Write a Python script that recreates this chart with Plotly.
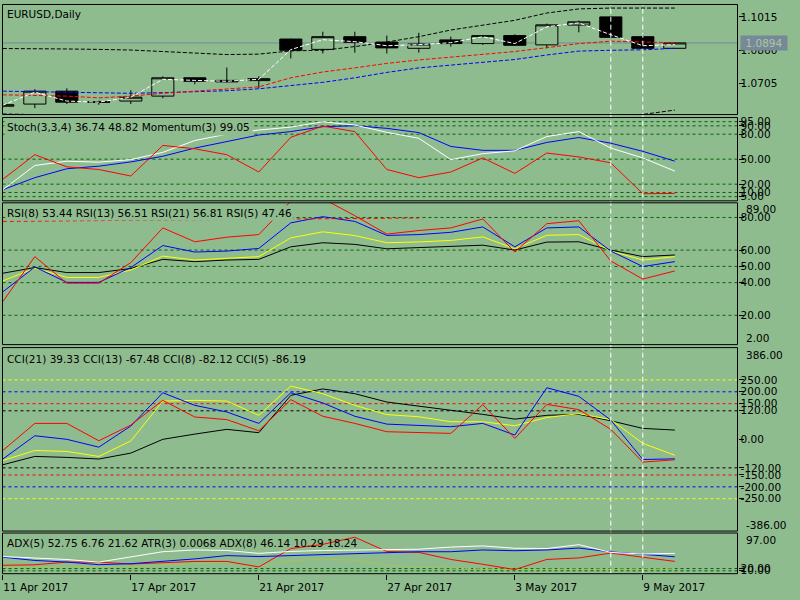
import plotly.graph_objects as go

BG = "#8fbc8f"
LEVEL = "#006400"
FONT = dict(family="DejaVu Sans", size=10.5, color="black")
W, H = 800, 600

# ---------------- data ----------------
bar_dates = ["11 Apr 2017", "12 Apr 2017", "13 Apr 2017", "14 Apr 2017",
             "17 Apr 2017", "18 Apr 2017", "19 Apr 2017", "20 Apr 2017", "21 Apr 2017",
             "24 Apr 2017", "25 Apr 2017", "26 Apr 2017", "27 Apr 2017", "28 Apr 2017",
             "1 May 2017", "2 May 2017", "3 May 2017", "4 May 2017", "5 May 2017",
             "8 May 2017", "9 May 2017", "10 May 2017"]
date_ticks = ["11 Apr 2017", "17 Apr 2017", "21 Apr 2017", "27 Apr 2017", "3 May 2017", "9 May 2017"]

open_ = [1.0600, 1.0610, 1.0670, 1.0621, 1.0624, 1.0647, 1.0732, 1.0720, 1.0719, 1.0912, 1.0864,
         1.0923, 1.0898, 1.0869, 1.0908, 1.0891, 1.0928, 1.0885, 1.0977, 1.1015, 1.0923, 1.0869]
high = [1.0614, 1.0679, 1.0683, 1.0626, 1.0674, 1.0739, 1.0734, 1.0780, 1.0739, 1.0914, 1.0946,
        1.0946, 1.0928, 1.0941, 1.0923, 1.0931, 1.0934, 1.0984, 1.0998, 1.1017, 1.0934, 1.0897]
low = [1.0594, 1.0591, 1.0610, 1.0607, 1.0610, 1.0637, 1.0702, 1.0711, 1.0683, 1.0822, 1.0845,
       1.0849, 1.0845, 1.0849, 1.0877, 1.0885, 1.0881, 1.0869, 1.0943, 1.0918, 1.0866, 1.0868]
close = [1.0607, 1.0670, 1.0619, 1.0619, 1.0642, 1.0732, 1.0716, 1.0713, 1.0728, 1.0860, 1.0923,
         1.0897, 1.0871, 1.0889, 1.0891, 1.0928, 1.0883, 1.0978, 1.0992, 1.0920, 1.0869, 1.0894]
last_price = 1.0894

ma_white = [1.0605, 1.0665, 1.0624, 1.0619, 1.0642, 1.0725, 1.0720, 1.0716, 1.0725, 1.0863, 1.0909,
            1.0900, 1.0881, 1.0886, 1.0895, 1.0923, 1.0891, 1.0969, 1.0987, 1.0932, 1.0881, 1.0886]
ma_red = [1.0653, 1.0651, 1.0647, 1.0639, 1.0647, 1.0660, 1.0670, 1.0679, 1.0690, 1.0732, 1.0759,
          1.0778, 1.0799, 1.0815, 1.0829, 1.0842, 1.0854, 1.0872, 1.0891, 1.0902, 1.0900, 1.0895]
ma_blue = [1.0670, 1.0667, 1.0665, 1.0662, 1.0660, 1.0663, 1.0667, 1.0672, 1.0681, 1.0697, 1.0711,
           1.0732, 1.0757, 1.0778, 1.0792, 1.0803, 1.0817, 1.0838, 1.0856, 1.0860, 1.0862, 1.0869]
band_up = [1.0868, 1.0868, 1.0866, 1.0864, 1.0861, 1.0854, 1.0847, 1.0840, 1.0842, 1.0857, 1.0860,
           1.0877, 1.0898, 1.0923, 1.0954, 1.0976, 1.0999, 1.1033, 1.1052, 1.1056, 1.1056, 1.1056]
band_dn = [1.0564, 1.0561, 1.0548, 1.0540, 1.0535, 1.0530, 1.0530, 1.0532, 1.0535, 1.0520, 1.0510,
           1.0505, 1.0500, 1.0505, 1.0512, 1.0522, 1.0533, 1.0540, 1.0548, 1.0556, 1.0562, 1.0582]

stoch_red = [25.8, 55.4, 40.8, 37.6, 29.8, 66.5, 62.5, 55.4, 34.6, 76.3, 89.7,
             83.1, 37.6, 27.8, 34.6, 51.5, 32.9, 57.4, 52.7, 45.6, 8.5, 8.9]
stoch_white = [13.3, 42.4, 47.6, 46.4, 49.5, 58.2, 72.4, 80.0, 85.0, 88.5, 94.9,
               90.9, 82.2, 75.1, 49.5, 56.6, 60.1, 77.2, 83.1, 63.3, 51.5, 35.7]
stoch_blue = [13.3, 27.8, 38.5, 41.6, 46.7, 53.5, 63.3, 71.2, 79.0, 83.1, 89.0,
              90.2, 87.0, 81.9, 65.3, 60.6, 60.6, 70.1, 76.0, 69.2, 59.4, 47.6]
stoch_levels = [95, 90, 80, 50, 20, 10, 5]

rsi_red = [28.4, 56.0, 39.7, 39.7, 52.3, 73.6, 65.1, 67.9, 69.5, 90.0, 91.6,
           81.1, 69.8, 72.0, 73.6, 79.1, 58.8, 76.2, 78.0, 53.3, 42.2, 47.2]
rsi_blue = [34.4, 49.6, 40.2, 40.2, 49.3, 62.8, 58.8, 59.4, 61.0, 76.7, 80.5,
            77.6, 69.0, 69.5, 70.9, 74.2, 62.0, 73.6, 74.2, 59.4, 49.9, 52.9]
rsi_yellow = [41.1, 48.9, 43.2, 43.2, 47.8, 56.3, 53.9, 54.8, 56.0, 67.5, 71.2,
              68.9, 64.5, 65.0, 65.9, 68.1, 60.8, 69.1, 69.5, 59.4, 53.9, 56.0]
rsi_black = [45.8, 49.3, 46.2, 46.2, 48.7, 54.3, 52.9, 53.9, 54.3, 62.0, 64.5,
             63.5, 60.8, 61.5, 62.0, 63.0, 60.0, 64.9, 65.1, 60.0, 56.0, 57.0]
rsi_trend_bars = [0, 13]
rsi_trend_vals = [77.6, 79.7]
rsi_levels = [80, 60, 50, 40, 20]

cci_red = [-47, 67, 67, -6, 60, 164, 94, 83, 36, 167, 97,
           67, 32, 30, 25, 146, 4, 147, 125, 42, -96, -86]
cci_blue = [-83, 15, 0, -33, 56, 196, 143, 115, 67, 196, 153,
            97, 64, 58, 53, 67, 18, 217, 181, 81, -85, -82]
cci_yellow = [-89, -47, -51, -72, -7, 161, 164, 161, 101, 224, 192,
              143, 104, 95, 74, 74, 57, 92, 108, 83, -17, -67]
cci_black = [-107, -72, -76, -83, -58, 0, 22, 42, 28, 185, 212,
             192, 157, 140, 122, 105, 85, 101, 105, 78, 46, 39]
cci_levels = [(250, "#ffff00"), (200, "#0000ff"), (150, "#ff0000"), (120, "#000000")]
cci_ticks = [250, 200, 150, 120, 0, -120, -150, -200, -250]

adx_white = [40.9, 37.6, 33.9, 27.7, 40.9, 52.4, 56.6, 55.4, 48.5, 53.1, 55.4,
             56.6, 56.1, 58.4, 63.5, 66.3, 60.7, 60.0, 69.3, 50.8, 46.9, 48.5]
adx_blue = [39.3, 31.6, 27.7, 21.5, 23.8, 29.3, 35.3, 43.2, 40.9, 43.2, 45.5,
            48.5, 50.8, 52.4, 52.4, 56.6, 54.8, 56.6, 61.2, 52.0, 46.2, 40.4]
adx_red = [20.1, 21.2, 27.7, 27.7, 23.1, 25.4, 29.3, 29.3, 16.2, 60.0, 70.0,
           87.0, 53.0, 50.8, 34.0, 22.4, 9.9, 34.0, 37.6, 49.2, 39.3, 29.3]
atr_olive = [15.0, 15.0, 15.0, 15.5, 16.2, 19.6, 24.2, 27.7, 16.2, 31.2, 34.6,
             32.3, 20.1, 15.0, 13.4, 11.5, 9.9, 10.9, 11.5, 11.5, 11.5, 11.5]
adx_levels = [12.2, 6.9]
adx_level_text = ["20.00", "10.00"]

marked_bars = ["8 May 2017", "9 May 2017"]

# ---------------- layout helpers ----------------
def fx(p):
    return p / W


def fy(p):
    return 1 - p / H


LEFT, RIGHT = 2.5, 737.5
panels = [  # name, top px, bottom px, value range
    ("price", 2.5, 113.5, [1.05613, 1.10726]),
    ("stoch", 116.5, 200.5, [0, 100]),
    ("rsi", 202.5, 345.5, [2, 89]),
    ("cci", 348.5, 533.5, [-386, 386]),
    ("adx", 535.5, 576.5, [0, 97]),
]
ax = {name: i + 1 for i, (name, *_rest) in enumerate(panels)}
xs = list(range(len(bar_dates)))
xrange_ = [-0.01, (RIGHT - LEFT) / 32 - 0.01]


def ref(name):
    i = ax[name]
    return ("x" if i == 1 else f"x{i}"), ("y" if i == 1 else f"y{i}")


fig = go.Figure()

xa, ya = ref("price")
fig.add_trace(go.Candlestick(
    x=xs, open=open_, high=high, low=low, close=close, xaxis=xa, yaxis=ya,
    increasing=dict(line=dict(color="black", width=1), fillcolor=BG),
    decreasing=dict(line=dict(color="black", width=1), fillcolor="black"),
    whiskerwidth=0, showlegend=False, hoverinfo="skip"))
for vals, col in [(band_up, "black"), (band_dn, "black"), (ma_blue, "#0000ff"),
                  (ma_red, "#ff0000"), (ma_white, "white")]:
    fig.add_trace(go.Scatter(x=xs, y=vals, mode="lines", xaxis=xa, yaxis=ya,
                             line=dict(color=col, width=1, dash="4px,2px")))


def lines(name, series):
    xa, ya = ref(name)
    for vals, col in series:
        fig.add_trace(go.Scatter(x=xs, y=vals, mode="lines", xaxis=xa, yaxis=ya,
                                 line=dict(color=col, width=1)))


lines("stoch", [(stoch_blue, "#0000ff"), (stoch_white, "white"), (stoch_red, "#ff0000")])
lines("rsi", [(rsi_black, "black"), (rsi_yellow, "#ffff00"), (rsi_blue, "#0000ff"), (rsi_red, "#ff0000")])
xa, ya = ref("rsi")
fig.add_trace(go.Scatter(x=rsi_trend_bars, y=rsi_trend_vals, mode="lines", xaxis=xa, yaxis=ya,
                         line=dict(color="#ff0000", width=1, dash="4px,3px")))
lines("cci", [(cci_black, "black"), (cci_yellow, "#ffff00"), (cci_blue, "#0000ff"), (cci_red, "#ff0000")])
xa, ya = ref("adx")
fig.add_trace(go.Scatter(x=xs, y=atr_olive, mode="lines", xaxis=xa, yaxis=ya,
                         line=dict(color="#b0d020", width=1, dash="2px,2px")))
lines("adx", [(adx_red, "#ff0000"), (adx_blue, "#0000ff"), (adx_white, "white")])

layout = dict(width=W, height=H, margin=dict(l=0, r=0, t=0, b=0), paper_bgcolor=BG,
              plot_bgcolor=BG, showlegend=False, hovermode=False, font=FONT,
              boxgap=0.31, boxgroupgap=0)
tickspec = {
    "price": ([1.1015, 1.0860, 1.0705], None, "%.4f"),
    "stoch": (stoch_levels, None, "%.2f"),
    "rsi": (rsi_levels, None, "%.2f"),
    "cci": (cci_ticks, None, "%.2f"),
    "adx": (adx_levels, adx_level_text, None),
}
for name, top, bot, yr in panels:
    i = ax[name]
    xa, ya = ref(name)
    xkey = "xaxis" if i == 1 else f"xaxis{i}"
    ykey = "yaxis" if i == 1 else f"yaxis{i}"
    layout[xkey] = dict(domain=[fx(LEFT), fx(RIGHT)], range=xrange_, anchor=ya,
                        visible=False, showgrid=False, zeroline=False,
                        rangeslider=dict(visible=False))
    vals, texts, fmt = tickspec[name]
    layout[ykey] = dict(domain=[fy(bot), fy(top)], range=yr, anchor=xa, side="right",
                        showgrid=False, zeroline=False, showline=False,
                        ticks="outside", ticklen=5, tickcolor="black", tickwidth=1,
                        ticklabelstandoff=-5,
                        tickvals=vals, ticktext=texts or [fmt % v for v in vals], tickfont=FONT)
last = f"xaxis{ax['adx']}"
layout[last].update(visible=True, showticklabels=True, ticks="outside", ticklen=5,
                    tickcolor="black", tickvals=[bar_dates.index(d) for d in date_ticks],
                    ticktext=date_ticks, ticklabelposition="outside right", tickfont=FONT,
                    ticklabelstandoff=4)
fig.update_layout(**layout)

# level lines
def hline(name, v, col, dash="3px,3px", layer="below"):
    fig.add_shape(type="line", xref="paper", x0=fx(LEFT), x1=fx(RIGHT), yref=ref(name)[1],
                  y0=v, y1=v, line=dict(color=col, width=1, dash=dash), layer=layer)


for v in stoch_levels:
    hline("stoch", v, LEVEL)
for v in rsi_levels:
    hline("rsi", v, LEVEL)
for v, col in cci_levels:
    hline("cci", v, col)
    hline("cci", -v, col)
for v in adx_levels:
    hline("adx", v, LEVEL)
hline("price", last_price, "#778899", dash="solid")

# session markers and panel frames
for d in marked_bars:
    b = bar_dates.index(d)
    fig.add_shape(type="line", xref="x", x0=b, x1=b, yref="paper", y0=fy(576.5), y1=fy(2.5),
                  line=dict(color="white", width=1, dash="5px,3px"), layer="above")
for name, top, bot, yr in panels:
    fig.add_shape(type="rect", xref="paper", yref="paper", x0=fx(LEFT), x1=fx(RIGHT),
                  y0=fy(bot), y1=fy(top), line=dict(color="black", width=1), layer="above")

# window captions: text, centre y px, background, padding
captions = [
    ("EURUSD,Daily", 12.5, "rgba(0,0,0,0)", 2),
    ("Stoch(3,3,4) 36.74 48.82 Momentum(3) 99.05", 126.5, BG, 2),
    ("RSI(8) 53.44 RSI(13) 56.51 RSI(21) 56.81 RSI(5) 47.46", 213, BG, 1),
    ("CCI(21) 39.33 CCI(13) -67.48 CCI(8) -82.12 CCI(5) -86.19", 359.5, BG, 2),
    ("ADX(5) 52.75 6.76 21.62 ATR(3) 0.0068 ADX(8) 46.14 10.29 18.24", 546, "rgba(0,0,0,0)", 2),
]
for text, ypx, bg, pad in captions:
    fig.add_annotation(text=text, xref="paper", yref="paper", x=fx(6 - pad), y=fy(ypx),
                       xanchor="left", yanchor="middle", showarrow=False, font=FONT,
                       bgcolor=bg, borderpad=pad)

# scale max/min labels that MT4 pushes inside the window
edge_labels = [("89.00", 209), ("2.00", 339), ("386.00", 356), ("-386.00", 527), ("97.00", 543)]
for text, ypx in edge_labels:
    fig.add_annotation(text=text, xref="paper", yref="paper", x=fx(744), y=fy(ypx),
                       xanchor="left", yanchor="middle", showarrow=False, font=FONT)

fig.add_annotation(text="%.4f" % last_price, xref="paper", yref=ref("price")[1], x=fx(740),
                   y=last_price, xanchor="left", yanchor="middle", showarrow=False,
                   font=dict(family="DejaVu Sans", size=10.5, color="#a8c8a0"),
                   bgcolor="#778899", width=44, height=12, borderpad=1)

fig.write_html("out.html", config={"displayModeBar": False},
               post_script="document.body.style.margin = '0';")
